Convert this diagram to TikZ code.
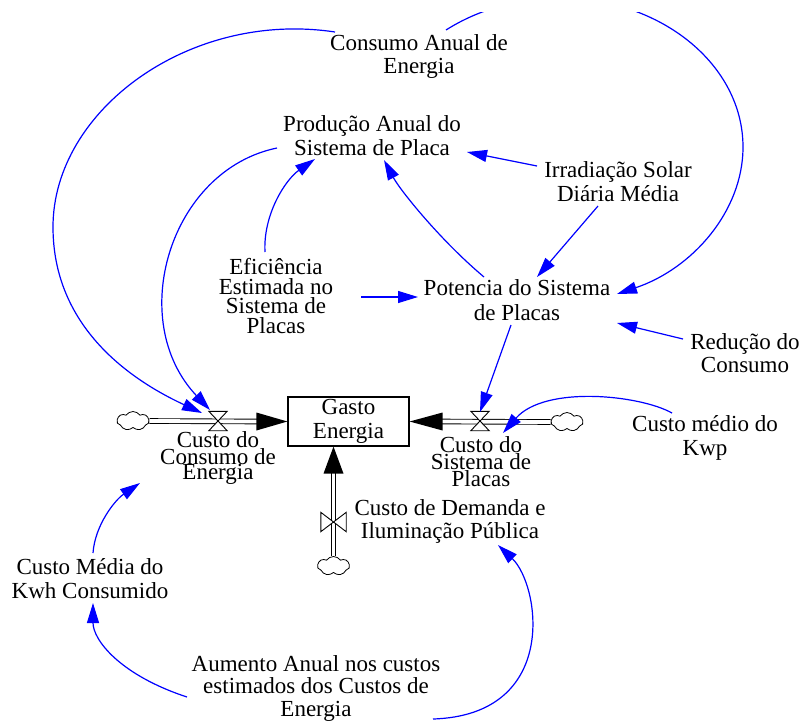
\documentclass[tikz,border=0pt]{standalone}
\usepackage{fontspec}
\setmainfont{Liberation Serif}
\usetikzlibrary{arrows.meta,shapes.symbols,calc}
\begin{document}
\begin{tikzpicture}[x=1pt,y=-1pt,
  lbl/.style={align=center, inner sep=0pt, font=\fontsize{23}{24}\selectfont},
  link/.style={draw=blue, line width=1.2pt, -{Triangle[length=20pt,width=12pt]}},
  pipe/.style={draw=black, double=white, double distance=3.8pt, line width=0.9pt},
  valvebox/.style={inner sep=0pt, minimum width=18pt, minimum height=19pt},
  valve/.style={draw=black, fill=white, line width=0.9pt, line join=miter},
  flowtip/.style={fill=black},
  cloudy/.style={cloud, cloud puffs=7, cloud puff arc=110, aspect=1.7, draw, line width=0.8pt, inner sep=0pt, minimum width=32pt, minimum height=19pt},
  stock/.style={draw, line width=1.2pt, minimum width=121pt, minimum height=49pt, inner sep=0pt, align=center, font=\fontsize{23}{24}\selectfont}
]
\useasboundingbox (0,0) rectangle (803,721);

% variables
\node[lbl, font=\fontsize{23}{23}\selectfont] (cons) at (419,56) {Consumo Anual de\\Energia};
\node[lbl] (prod) at (372,136) {Produção Anual do\\Sistema de Placa};
\node[lbl] (irr) at (618,182) {Irradiação Solar\\Diária Média};
\node[lbl, font=\fontsize{23}{19.5}\selectfont] (efi) at (276,296) {Eficiência\\Estimada no\\Sistema de\\Placas};
\node[lbl, font=\fontsize{23}{25}\selectfont] (pot) at (517,300) {Potencia do Sistema\\de Placas};
\node[lbl, font=\fontsize{23}{23}\selectfont] (red) at (745,353) {Redução do\\Consumo};
\node[lbl] (kwp) at (705,438) {Custo médio do\\Kwp};
\node[lbl, font=\fontsize{23}{15.5}\selectfont] (lcons) at (218,458) {Custo do\\Consumo de\\Energia};
\node[lbl, font=\fontsize{23}{17}\selectfont] (lsis) at (481,462) {Custo do\\Sistema de\\Placas};
\node[lbl, font=\fontsize{23}{23}\selectfont] (dem) at (450,521) {Custo de Demanda e\\Iluminação Pública};
\node[lbl] (kwh) at (90,579) {Custo Média do\\Kwh Consumido};
\node[lbl, font=\fontsize{23}{22.5}\selectfont] (aum) at (316,688) {Aumento Anual nos custos\\estimados dos Custos de\\Energia};

% stock
\node[stock] (gasto) at (348.5,421.5) {Gasto\\Energia};

% clouds
\node[cloudy] (cL) at (133,421) {};
\node[cloudy] (cR) at (567,422) {};
\node[cloudy] (cB) at (333.5,566) {};

% valves (positions)
\node[valvebox] (vL) at (218,421) {};
\node[valvebox] (vR) at (480,421) {};
\node[valvebox, minimum width=25pt] (vB) at (333.5,522) {};

% pipes
\draw[pipe] (cL.east) -- ($(gasto.west)+(-30,0)$);
\draw[pipe] (cR.west) -- ($(gasto.east)+(32,0)$);
\draw[pipe] (cB.north) -- ($(gasto.south)+(-15,26)$);

% flow arrowheads
\fill[flowtip] (gasto.west) -- ++(-31,-9) -- ++(0,18) -- cycle;
\fill[flowtip] (gasto.east) -- ++(33,-9) -- ++(0,18) -- cycle;
\fill[flowtip] ($(gasto.south)+(-15,0)$) -- ++(-10,27) -- ++(20,0) -- cycle;

% valve symbols
\draw[valve] (vL.north west) -- (vL.north east) -- (vL.south west) -- (vL.south east) -- cycle;
\draw[valve] (vR.north west) -- (vR.north east) -- (vR.south west) -- (vR.south east) -- cycle;
\draw[valve] (vB.north west) -- (vB.south west) -- (vB.north east) -- (vB.south east) -- cycle;

% links
\draw[link] ($(cons)+(-84,-24)$) .. controls (190,10) and (53,110) .. (53,227)
            .. controls (53,320) and (120,375) .. ($(vL)+(-16,-8)$);
\draw[link] ($(prod)+(-95,12)$) .. controls (170,170) and (125,320) .. ($(vL)+(-8,-11)$);
\draw[link] ($(efi)+(-11,-44)$) .. controls (263,215) and (285,180) .. ($(prod)+(-57,23)$);
\draw[link] ($(pot)+(-33,-23)$) .. controls (440,240) and (400,190) .. ($(prod)+(12,24)$);
\draw[link] ($(irr)+(-81,-16)$) -- ($(prod)+(95,16)$);
\draw[link] ($(irr)+(-20,24)$) -- ($(pot)+(20,-23)$);
\draw[link] ($(efi)+(85,1)$) -- ($(pot)+(-99,-3)$);
\draw[link] ($(red)+(-62,-14)$) -- ($(pot)+(100,23)$);
\begin{scope}
  \clip (0,12) rectangle (803,721);
  \draw[link] ($(cons)+(27,-26)$) .. controls (478.5,9.4) and (518.6,-2) .. (560,-2)
              .. controls (661,-2) and (743,64.8) .. (743,147)
              .. controls (743,211.5) and (692,268.8) .. ($(pot)+(100,-6)$);
\end{scope}
\draw[link] ($(pot)+(-6,25)$) -- ($(vR)+(0,-9)$);
\draw[link] ($(kwp)+(-33,-25)$) .. controls (640,395) and (545,385) .. ($(vR)+(23,12)$);
\draw[link] ($(kwh)+(3,-26)$) .. controls (95,525) and (115,500) .. ($(lcons)+(-78,25)$);
\draw[link] ($(aum)+(-129,9)$) .. controls (120,675) and (93,640) .. ($(kwh)+(3,24)$);
\draw[link] ($(aum)+(117,31)$) .. controls (560,715) and (540,585) .. ($(dem)+(48,24)$);
\end{tikzpicture}
\end{document}
